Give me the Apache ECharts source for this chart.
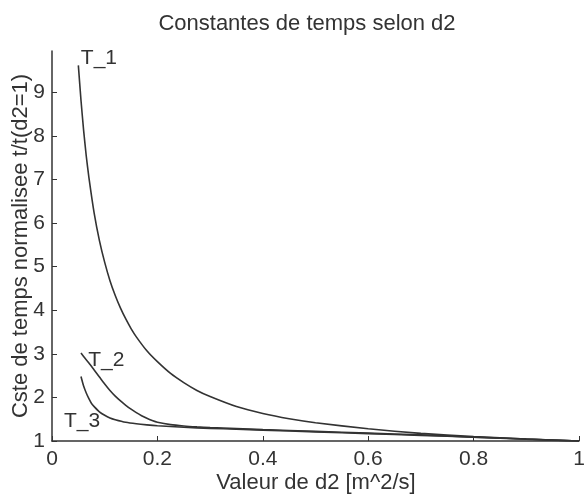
<!DOCTYPE html>
<html>
<head>
<meta charset="utf-8">
<script src="https://cdn.jsdelivr.net/npm/echarts@6/dist/echarts.min.js"></script>
<style>html,body{margin:0;padding:0;background:#fff}#c{width:585px;height:497px}</style>
</head>
<body>
<div id="c"></div>
<script>
const titleText = 'Constantes de temps selon d2';
const xName = 'Valeur de d2 [m^2/s]';
const yName = 'Cste de temps normalisee t/t(d2=1)';
const xTicks = [0, 0.2, 0.4, 0.6, 0.8, 1];
const yTicks = [1, 2, 3, 4, 5, 6, 7, 8, 9];
const seriesNames = ['T_1', 'T_2', 'T_3'];

const d2_T1 = [0.05, 0.055, 0.06, 0.065, 0.07, 0.08, 0.09, 0.1, 0.11, 0.12, 0.13, 0.14, 0.15, 0.16, 0.18, 0.2, 0.225, 0.25, 0.275, 0.3, 0.35, 0.4, 0.45, 0.5, 0.6, 0.7, 0.8, 0.9, 1.0];
const T1 = [9.62, 8.82, 8.13, 7.54, 7.05, 6.23, 5.60, 5.10, 4.68, 4.34, 4.05, 3.80, 3.58, 3.39, 3.07, 2.82, 2.55, 2.34, 2.16, 2.02, 1.79, 1.63, 1.51, 1.42, 1.28, 1.175, 1.10, 1.045, 1.0];

const d2_T2 = [0.055, 0.06, 0.07, 0.08, 0.09, 0.1, 0.11, 0.12, 0.13, 0.14, 0.15, 0.16, 0.17, 0.18, 0.19, 0.2, 0.225, 0.25, 0.275, 0.3, 0.35, 0.4, 0.5, 0.6, 0.7, 0.8, 0.9, 1.0];
const T2 = [3.02, 2.94, 2.79, 2.63, 2.47, 2.31, 2.16, 2.03, 1.92, 1.82, 1.73, 1.65, 1.58, 1.52, 1.47, 1.43, 1.375, 1.345, 1.325, 1.31, 1.285, 1.26, 1.22, 1.18, 1.14, 1.09, 1.045, 1.0];

const d2_T3 = [0.055, 0.06, 0.065, 0.07, 0.075, 0.08, 0.09, 0.1, 0.11, 0.12, 0.14, 0.16, 0.18, 0.2, 0.25, 0.3, 0.35, 0.4, 0.5, 0.6, 0.7, 0.8, 0.9, 1.0];
const T3 = [2.48, 2.26, 2.10, 1.97, 1.86, 1.79, 1.67, 1.59, 1.53, 1.49, 1.43, 1.395, 1.37, 1.35, 1.315, 1.29, 1.27, 1.25, 1.21, 1.17, 1.13, 1.085, 1.04, 1.0];

// label anchor points (data units)
const labelAnchors = [[0.089, 9.78], [0.103, 2.86], [0.057, 1.46]];

const ink = '#333';
const font = '22px "Liberation Sans"';
const zip = (xs, ys) => xs.map((x, i) => [x, ys[i]]);
const curves = [zip(d2_T1, T1), zip(d2_T2, T2), zip(d2_T3, T3)];

const chart = echarts.init(document.getElementById('c'), null, {renderer: 'canvas'});
chart.setOption({
  animation: false,
  backgroundColor: '#fff',
  title: {
    text: titleText, left: 302, top: 8, textAlign: 'center',
    textStyle: {fontFamily: 'Liberation Sans', fontSize: 22, fontWeight: 'normal', color: ink}
  },
  grid: {left: 52, right: 6, top: 51, bottom: 56, containLabel: false, outerBoundsMode: 'none'},
  graphic: [
    {type: 'text', x: 316, y: 483, silent: true,
     style: {text: xName, font: font, fill: ink, align: 'center', verticalAlign: 'middle'}},
    {type: 'text', x: 21, y: 246, rotation: Math.PI / 2, silent: true,
     style: {text: yName, font: font, fill: ink, align: 'center', verticalAlign: 'middle'}}
  ],
  xAxis: {
    type: 'value', min: 0, max: 1, interval: 0.2,
    axisLine: {show: true, onZero: false, lineStyle: {color: ink, width: 1.5}},
    axisTick: {show: true, inside: true, length: 5, lineStyle: {color: ink}, customValues: xTicks},
    axisLabel: {fontFamily: 'Liberation Sans', fontSize: 21, color: ink, margin: 8, customValues: xTicks,
      formatter: v => String(Math.round(v * 10) / 10)},
    splitLine: {show: false}
  },
  yAxis: {
    type: 'value', min: 1, max: 9.95, interval: 1,
    axisLine: {show: true, onZero: false, lineStyle: {color: ink, width: 1.5}},
    axisTick: {show: true, inside: true, length: 5, lineStyle: {color: ink}, customValues: yTicks},
    axisLabel: {fontFamily: 'Liberation Sans', fontSize: 21, color: ink, margin: 7, customValues: yTicks},
    splitLine: {show: false}
  },
  series: curves.map((data, i) => ({
    name: seriesNames[i], type: 'line', data: data, smooth: 0.2,
    showSymbol: false, symbol: 'none',
    lineStyle: {color: ink, width: 1.6},
    markPoint: {
      symbol: 'circle', symbolSize: 0, silent: true,
      data: [{coord: labelAnchors[i], value: seriesNames[i]}],
      label: {show: true, position: 'inside', formatter: seriesNames[i],
        fontFamily: 'Liberation Sans', fontSize: 21, color: ink}
    }
  }))
});
</script>
</body>
</html>
